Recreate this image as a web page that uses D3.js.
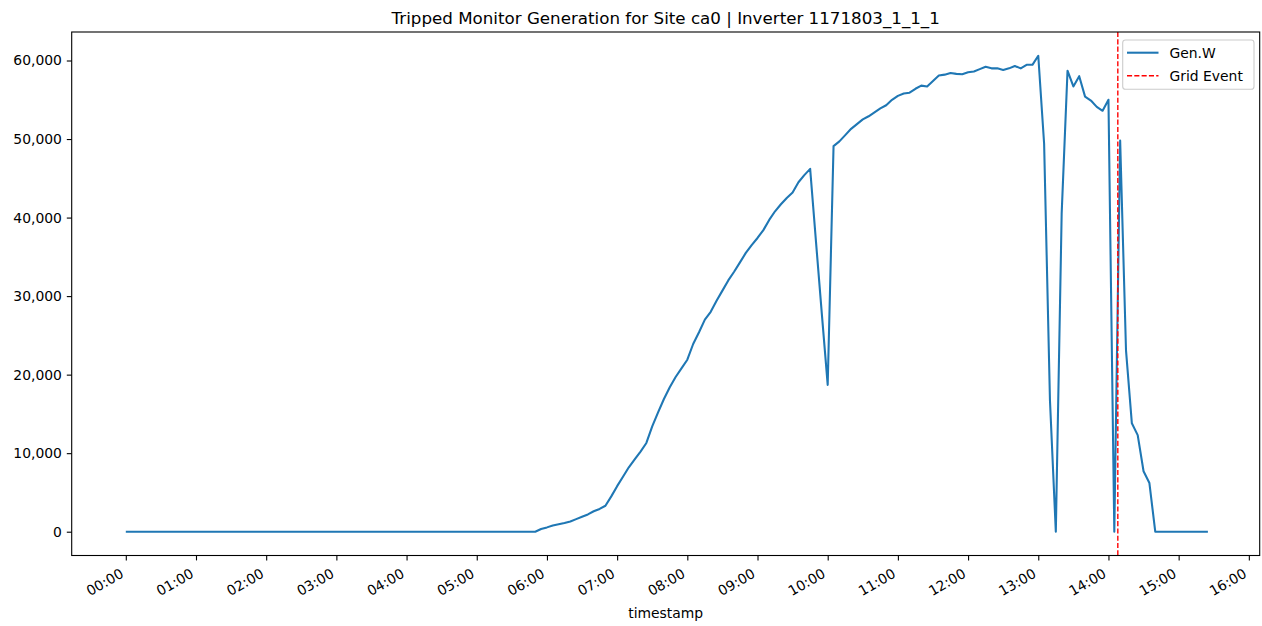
<!DOCTYPE html>
<html>
<head>
<meta charset="utf-8">
<script src="https://cdn.jsdelivr.net/npm/d3@7"></script>
<style>
  html, body { margin: 0; padding: 0; background: #fff; }
  svg { display: block; font-family: "DejaVu Sans", sans-serif; }
</style>
</head>
<body>
<svg id="chart" width="1262" height="626"></svg>
<script>
// Inverter generation (W), sampled every 5 minutes from 00:00 to 15:25
const startTime = "00:00";
const stepMinutes = 5;
const genW = [
  // 00:00
  0, 0, 0, 0, 0, 0, 0, 0, 0, 0, 0, 0,
  // 01:00
  0, 0, 0, 0, 0, 0, 0, 0, 0, 0, 0, 0,
  // 02:00
  0, 0, 0, 0, 0, 0, 0, 0, 0, 0, 0, 0,
  // 03:00
  0, 0, 0, 0, 0, 0, 0, 0, 0, 0, 0, 0,
  // 04:00
  0, 0, 0, 0, 0, 0, 0, 0, 0, 0, 0, 0,
  // 05:00
  0, 0, 0, 0, 0, 0, 0, 0, 0, 0, 0, 350,
  // 06:00
  550, 800, 950, 1100, 1300, 1600, 1900, 2200, 2600, 2900, 3300, 4500,
  // 07:00
  5800, 7000, 8200, 9200, 10200, 11300, 13400, 15200, 16900, 18400, 19700, 20800,
  // 08:00
  21900, 23900, 25400, 27000, 28000, 29400, 30700, 32000, 33100, 34300, 35500, 36500,
  // 09:00
  37400, 38400, 39700, 40800, 41700, 42500, 43200, 44500, 45400, 46200, 36900, 27700,
  // 10:00
  18700, 49100, 49700, 50500, 51300, 51900, 52500, 52900, 53400, 53900, 54300, 55000,
  // 11:00
  55500, 55800, 55900, 56400, 56800, 56700, 57400, 58100, 58200, 58400, 58300, 58250,
  // 12:00
  58500, 58600, 58900, 59200, 59000, 59000, 58800, 59000, 59300, 59000, 59450, 59450,
  // 13:00
  60600, 49400, 16700, 0, 40500, 58700, 56700, 58000, 55400, 54900, 54100, 53600,
  // 14:00
  55000, 0, 49800, 23100, 13800, 12300, 7700, 6200, 0, 0, 0, 0,
  // 15:00
  0, 0, 0, 0, 0, 0
];
const gridEventTime = "14:08";
const yTickValues = [0, 10000, 20000, 30000, 40000, 50000, 60000];
const titleText = "Tripped Monitor Generation for Site ca0 | Inverter 1171803_1_1_1";
const xLabel = "timestamp";
const legendLabels = ["Gen.W", "Grid Event"];

const lineColor = "#1f77b4";
const eventColor = "#ff0000";

const svg = d3.select("#chart");
const plot = { left: 71.7, right: 1259.7, top: 32, bottom: 555.5 };
// time axis runs slightly past the right frame edge
const xRangeEnd = 1262;

const day = [2024, 0, 1];
function parseClock(s) {
  const [h, m] = s.split(":").map(Number);
  return new Date(day[0], day[1], day[2], h, m);
}
const t0 = parseClock(startTime);
const series = genW.map((v, i) => ({ t: new Date(t0.getTime() + i * stepMinutes * 60000), v }));

// axis limits with a 5% margin around the data
const tExt = d3.extent(series, d => d.t);
const tPad = (tExt[1] - tExt[0]) * 0.05;
const vExt = d3.extent(series, d => d.v);
const vPad = (vExt[1] - vExt[0]) * 0.05;

const x = d3.scaleTime()
  .domain([new Date(+tExt[0] - tPad), new Date(+tExt[1] + tPad)])
  .range([plot.left, xRangeEnd]);
const y = d3.scaleLinear()
  .domain([vExt[0] - vPad, vExt[1] + vPad])
  .range([plot.bottom, plot.top]);

const tickLen = 4.9, tickPad = 4.9, fs = 13.9;

// x axis
const xAxis = svg.append("g")
  .attr("transform", `translate(0,${plot.bottom})`)
  .call(d3.axisBottom(x)
    .ticks(d3.timeHour.every(1))
    .tickFormat(d3.timeFormat("%H:%M"))
    .tickSize(tickLen)
    .tickSizeOuter(0));
xAxis.select(".domain").remove();
xAxis.selectAll(".tick").filter(d => x(d) > plot.right).remove();
xAxis.selectAll(".tick line").attr("stroke", "#000").attr("stroke-width", 1.1);
xAxis.selectAll(".tick text")
  .attr("font-size", fs)
  .attr("font-family", "DejaVu Sans")
  .attr("fill", "#000")
  .attr("text-anchor", "end")
  .attr("y", null).attr("dy", null)
  .attr("transform", `translate(0,${tickLen + tickPad + 0.866 * 16.2}) rotate(-30)`)
  .attr("dy", "-0.25em");

// y axis
const yAxis = svg.append("g")
  .attr("transform", `translate(${plot.left},0)`)
  .call(d3.axisLeft(y)
    .tickValues(yTickValues)
    .tickFormat(d3.format(","))
    .tickSize(tickLen)
    .tickPadding(tickPad)
    .tickSizeOuter(0));
yAxis.select(".domain").remove();
yAxis.selectAll(".tick line").attr("stroke", "#000").attr("stroke-width", 1.1);
yAxis.selectAll(".tick text")
  .attr("font-size", fs)
  .attr("font-family", "DejaVu Sans")
  .attr("fill", "#000");

// clip to the plotting area
svg.append("clipPath").attr("id", "plotClip")
  .append("rect")
  .attr("x", plot.left).attr("y", plot.top)
  .attr("width", plot.right - plot.left).attr("height", plot.bottom - plot.top);

// generation line
const line = d3.line().x(d => x(d.t)).y(d => y(d.v));
svg.append("path")
  .datum(series)
  .attr("clip-path", "url(#plotClip)")
  .attr("fill", "none")
  .attr("stroke", lineColor)
  .attr("stroke-width", 2.08)
  .attr("stroke-linejoin", "round")
  .attr("stroke-linecap", "butt")
  .attr("d", line);

// grid event marker
const ge = x(parseClock(gridEventTime));
svg.append("line")
  .attr("x1", ge).attr("x2", ge)
  .attr("y1", plot.top).attr("y2", plot.bottom)
  .attr("stroke", eventColor)
  .attr("stroke-width", 1.39)
  .attr("stroke-dasharray", "5.1,2.2");

// frame
svg.append("rect")
  .attr("x", plot.left).attr("y", plot.top)
  .attr("width", plot.right - plot.left).attr("height", plot.bottom - plot.top)
  .attr("fill", "none").attr("stroke", "#000").attr("stroke-width", 1.1);

// title and axis label
svg.append("text")
  .attr("x", (plot.left + plot.right) / 2).attr("y", 24)
  .attr("text-anchor", "middle")
  .attr("font-size", 16.7)
  .attr("fill", "#000")
  .text(titleText);

svg.append("text")
  .attr("x", (plot.left + plot.right) / 2).attr("y", 618)
  .attr("text-anchor", "middle")
  .attr("font-size", fs)
  .attr("fill", "#000")
  .text(xLabel);

// legend
const lg = svg.append("g");
lg.append("rect")
  .attr("x", 1122.7).attr("y", 40)
  .attr("width", 131.3).attr("height", 49.3)
  .attr("rx", 2.8)
  .attr("fill", "#fff").attr("fill-opacity", 0.8)
  .attr("stroke", "#cccccc").attr("stroke-width", 1.1);
const legendRows = [
  { label: legendLabels[0], color: lineColor, width: 2.08, dash: null, cy: 52.7 },
  { label: legendLabels[1], color: eventColor, width: 1.39, dash: "5.1,2.2", cy: 75.7 }
];
legendRows.forEach(r => {
  lg.append("line")
    .attr("x1", 1127).attr("x2", 1158.5)
    .attr("y1", r.cy).attr("y2", r.cy)
    .attr("stroke", r.color)
    .attr("stroke-width", r.width)
    .attr("stroke-dasharray", r.dash);
  lg.append("text")
    .attr("x", 1169.5).attr("y", r.cy + 5)
    .attr("font-size", fs)
    .attr("fill", "#000")
    .text(r.label);
});
</script>
</body>
</html>
